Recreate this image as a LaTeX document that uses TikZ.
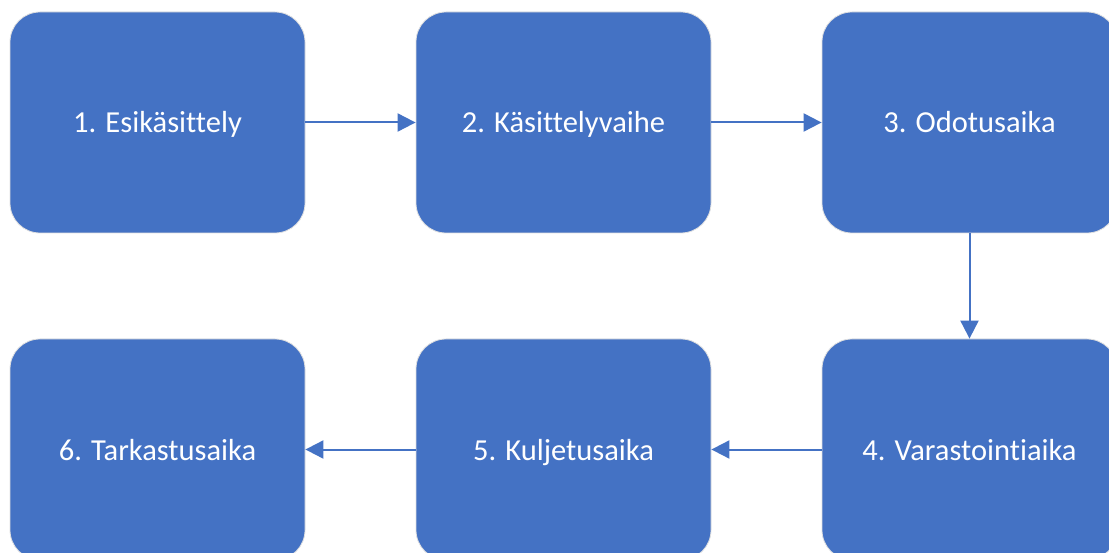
\documentclass[tikz,border=0pt]{standalone}
\usepackage{fontspec}
\setmainfont[Ligatures=NoCommon]{Carlito}
\usetikzlibrary{arrows.meta}
\definecolor{vaihesin}{HTML}{4472C4}
\tikzset{
  vaihe/.style={rectangle, rounded corners=30pt, fill=vaihesin,
    draw=white!88!black, line width=0.8pt,
    minimum width=295pt, minimum height=221pt,
    text=white, font=\fontsize{30.5}{36}\selectfont,
    text height=24pt, text depth=3pt},
  nuoli/.style={draw=vaihesin, line width=2pt,
    -{Triangle[length=18pt,width=18pt]}}
}
\begin{document}
\begin{tikzpicture}[x=1pt, y=-1pt]
  % kehys
  \clip (0,0) rectangle (1109,553);
  \fill[white] (0,0) rectangle (1109,553);

  % ylarivi
  \node[vaihe] (V1) at (157.5,122.5) {1. Esikäsittely};
  \node[vaihe] (V2) at (563.5,122.5) {2. Käsittelyvaihe};
  \node[vaihe] (V3) at (969.5,122.5) {3. Odotusaika};

  % alarivi
  \node[vaihe] (V4) at (969.5,449.5) {4. Varastointiaika};
  \node[vaihe] (V5) at (563.5,449.5) {5. Kuljetusaika};
  \node[vaihe] (V6) at (157.5,449.5) {6. Tarkastusaika};

  % nuolet
  \draw[nuoli] (V1) -- (V2);
  \draw[nuoli] (V2) -- (V3);
  \draw[nuoli] (V3) -- (V4);
  \draw[nuoli] (V4) -- (V5);
  \draw[nuoli] (V5) -- (V6);
\end{tikzpicture}
\end{document}
